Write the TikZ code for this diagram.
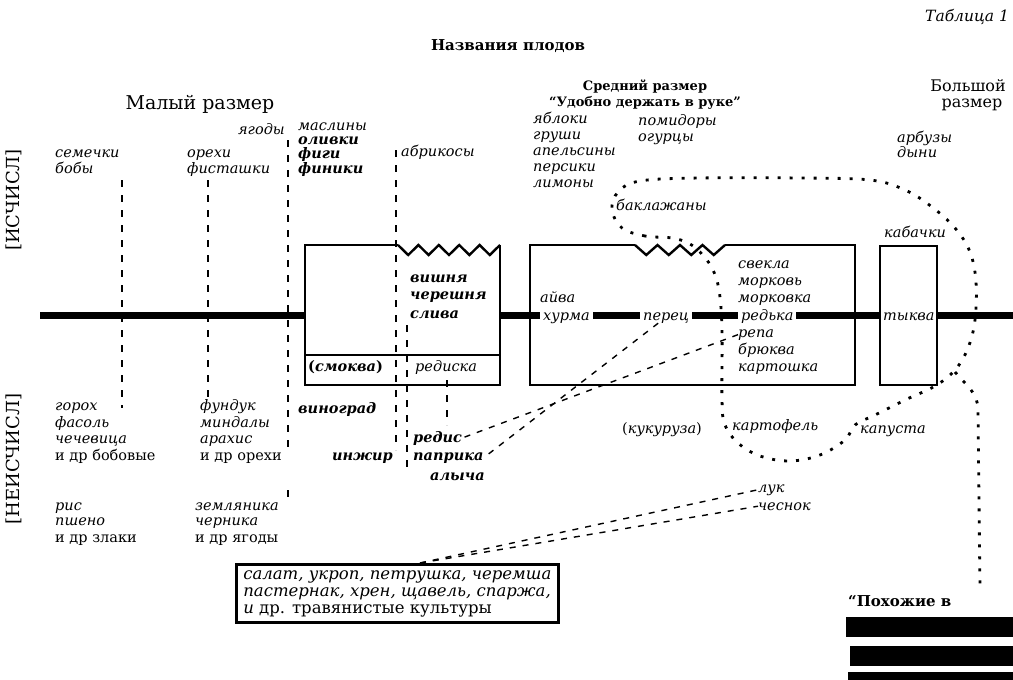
\documentclass[tikz,border=0pt]{standalone}
\usepackage{fontspec}
\setmainfont{DejaVu Serif}
\usetikzlibrary{positioning,calc}

\tikzset{
  lbl/.style={font={\fontsize{14.5}{16}\selectfont\itshape}, anchor=base west, inner sep=0pt},
  blbl/.style={lbl, font={\fontsize{14.5}{16}\selectfont\bfseries\itshape}},
  ulbl/.style={lbl, font={\fontsize{14.5}{16}\selectfont\upshape}},
  hd/.style={font={\fontsize{18}{20}\selectfont}, anchor=base, inner sep=0pt},
  bhd/.style={font={\fontsize{13}{15}\selectfont\bfseries}, anchor=base, inner sep=0pt},
  frame/.style={line width=2.4pt},
  axis/.style={line width=7pt},
  dsh/.style={line width=1.8pt, dash pattern=on 7pt off 8pt},
  sdsh/.style={line width=1.4pt, dash pattern=on 6pt off 7pt},
  dts/.style={line width=2.8pt, dash pattern=on 3pt off 9pt},
  onaxis/.style={fill=white, inner xsep=3pt}
}

\begin{document}
\begin{tikzpicture}[x=1pt,y=-1pt]
\useasboundingbox (0,0) rectangle (1013,680);

% Headings
\node[lbl, font={\fontsize{15.5}{17}\selectfont\itshape}] (tab) at (925,21) {Таблица 1};
\node[bhd, font={\fontsize{15}{17}\selectfont\bfseries}] (title) at (508,50) {Названия плодов};
\node[hd, font={\fontsize{19}{20}\selectfont}] (small) at (200,109) {Малый размер};
\node[bhd] (mid) at (645,90) {Средний размер};
\node[bhd] (midq) at (645,106) {“Удобно держать в руке”};
\node[hd, font={\fontsize{16}{18}\selectfont}] (big) at (968,91) {Большой};
\node[hd, font={\fontsize{16}{18}\selectfont}] (bigq) at (972,107) {размер};
\node[hd, rotate=90, anchor=center] (cnt) at (14,200) {[ИСЧИСЛ]};
\node[hd, rotate=90, anchor=center] (ncnt) at (14,459) {[НЕИСЧИСЛ]};

% Axis
\draw[axis] (40,315) -- (305,315);
\draw[axis] (500,315) -- (880,315);
\draw[axis] (937,315) -- (1013,315);

% Boxes
\draw[frame] (398,245) -- (305,245) -- (305,385) -- (500,385) -- (500,245);
\draw[frame] (398,245) \foreach \i in {1,...,5}{ -- ++(10.2,10) -- ++(10.2,-10)};
\draw[frame] (305,355) -- (500,355);
\draw[frame] (635,245) -- (530,245) -- (530,385) -- (855,385) -- (855,245) -- (725,245);
\draw[frame] (635,245) \foreach \i in {1,...,4}{ -- ++(11.25,10) -- ++(11.25,-10)};
\draw[frame] (880,246) rectangle (937,385);

% Upper labels
\foreach \y/\t [count=\i] in {123/яблоки,139/груши,155/апельсины,171/персики,187/лимоны}
  \node[lbl] (fr\i) at (533,\y) {\t};
\foreach \y/\t [count=\i] in {125/помидоры,141/огурцы}
  \node[lbl] (tom\i) at (638,\y) {\t};
\foreach \y/\t [count=\i] in {142/арбузы,157/дыни}
  \node[lbl] (mel\i) at (897,\y) {\t};
\node[lbl, anchor=base east] (berry) at (285,134) {ягоды};
\node[lbl] (ol1) at (298,130) {маслины};
\foreach \y/\t [count=\i from 2] in {144/оливки,158/фиги,173/финики}
  \node[blbl] (ol\i) at (298,\y) {\t};
\foreach \y/\t [count=\i] in {157/семечки,173/бобы}
  \node[lbl] (seed\i) at (55,\y) {\t};
\foreach \y/\t [count=\i] in {157/орехи,173/фисташки}
  \node[lbl] (nut\i) at (187,\y) {\t};
\node[lbl] (apr) at (401,156) {абрикосы};
\node[lbl] (egg) at (616,210) {баклажаны};
\node[lbl] (zuc) at (884,237) {кабачки};

% Inside boxes
\foreach \y/\t [count=\i] in {282/вишня,299/черешня,318/слива}
  \node[blbl] (ch\i) at (410,\y) {\t};
\node[blbl] (fig) at (308,371) {{\upshape(}смоква{\upshape)}};
\node[lbl] (rad) at (415,371) {редиска};
\node[lbl] (qu1) at (540,302) {айва};
\node[lbl, onaxis] (qu2) at (540,320) {хурма};
\node[lbl, onaxis] (pep) at (640,320) {перец};
\foreach \y/\t [count=\i] in {268/свекла,285/морковь,302/морковка,337/репа,354/брюква,371/картошка}
  \node[lbl] (root\i) at (738,\y) {\t};
\node[lbl, onaxis] (turn) at (738,320) {редька};
\node[lbl] (pump) at (883,320) {тыква};

% Lower labels
\foreach \y/\t [count=\i] in {410/горох,427/фасоль,443/чечевица}
  \node[lbl] (bean\i) at (55,\y) {\t};
\node[ulbl] (bean4) at (55,460) {и др бобовые};
\foreach \y/\t [count=\i] in {410/фундук,427/миндалы,443/арахис}
  \node[lbl] (hz\i) at (200,\y) {\t};
\node[ulbl] (hz4) at (200,460) {и др орехи};
\foreach \y/\t [count=\i] in {510/рис,525/пшено}
  \node[lbl] (gr\i) at (55,\y) {\t};
\node[ulbl] (gr3) at (55,542) {и др злаки};
\foreach \y/\t [count=\i] in {510/земляника,525/черника}
  \node[lbl] (wb\i) at (195,\y) {\t};
\node[ulbl] (wb3) at (195,542) {и др ягоды};
\node[blbl] (grape) at (298,413) {виноград};
\node[blbl, anchor=base east] (fig2) at (393,460) {инжир};
\node[blbl] (rdx) at (413,442) {редис};
\node[blbl] (pap) at (413,460) {паприка};
\node[blbl] (plum) at (430,480) {алыча};
\node[lbl] (corn) at (622,433) {{\upshape(}кукуруза{\upshape)}};
\node[lbl] (pot) at (732,430) {картофель};
\node[lbl] (cab) at (860,433) {капуста};
\node[lbl] (onion) at (758,492) {лук};
\node[lbl] (garl) at (758,510) {чеснок};

% Herbs
\node[draw, line width=2.6pt, anchor=north west, align=left, inner xsep=7pt, inner ysep=6pt,
      font={\fontsize{16.5}{17}\selectfont\itshape}] (herb) at (235,563)
  {салат, укроп, петрушка, черемша\\пастернак, хрен, щавель, спаржа,\\и {\upshape др. травянистые культуры}};

% Smudged note
\node[bhd, font={\fontsize{15}{17}\selectfont\bfseries}, anchor=base west] (note) at (848,606) {“Похожие в};
\fill (846,617) rectangle (1013,637);
\fill (850,646) rectangle (1013,666);
\fill (848,672) rectangle (1013,680);

% Dashed links
\coordinate (a1) at (122,180); \coordinate (a2) at (122,408);
\coordinate (b1) at (208,180); \coordinate (b2) at (208,398);
\coordinate (c1) at (288,140); \coordinate (c2) at (288,447);
\coordinate (c3) at (288,490); \coordinate (c4) at (288,500);
\coordinate (d1) at (396,150); \coordinate (d2) at (396,450);
\coordinate (e1) at (407,325); \coordinate (e2) at (407,470);
\coordinate (f1) at (447,380); \coordinate (f2) at (447,425);
\draw[dsh] (a1) -- (a2);
\draw[dsh] (b1) -- (b2);
\draw[dsh] (c1) -- (c2);
\draw[dsh] (c3) -- (c4);
\draw[dsh] (d1) -- (d2);
\draw[dsh] (e1) -- (e2);
\draw[dsh] (f1) -- (f2);
\draw[sdsh] ([xshift=-8pt]pep.south) -- (pap.east);
\draw[sdsh] (root4.west) -- (rdx.east);
\draw[sdsh] ([xshift=20pt]herb.north west) ++(165,0) coordinate (hs) -- (onion.west);
\draw[sdsh] (hs) -- (garl.west);

% Vegetable loop
\draw[dts] plot[smooth cycle, tension=0.6] coordinates {
  (672,238) (645,236) (622,228) (612,210) (618,192) (640,181) (700,178)
  (800,178) (870,180) (905,190) (932,207) (955,228) (970,252) (976,282)
  (975,320) (968,348) (955,370) (935,386) (905,400) (875,415) (855,425)
  (845,440) (820,455) (790,461) (760,456) (738,443) (725,425) (722,400)
  (722,330) (719,290) (712,268) (700,252) (688,243)};
\coordinate (n1) at (955,372); \coordinate (n2) at (980,590);
\draw[dts] (n1) to[out=-50,in=90] (978,410) -- (n2);
\end{tikzpicture}
\end{document}
